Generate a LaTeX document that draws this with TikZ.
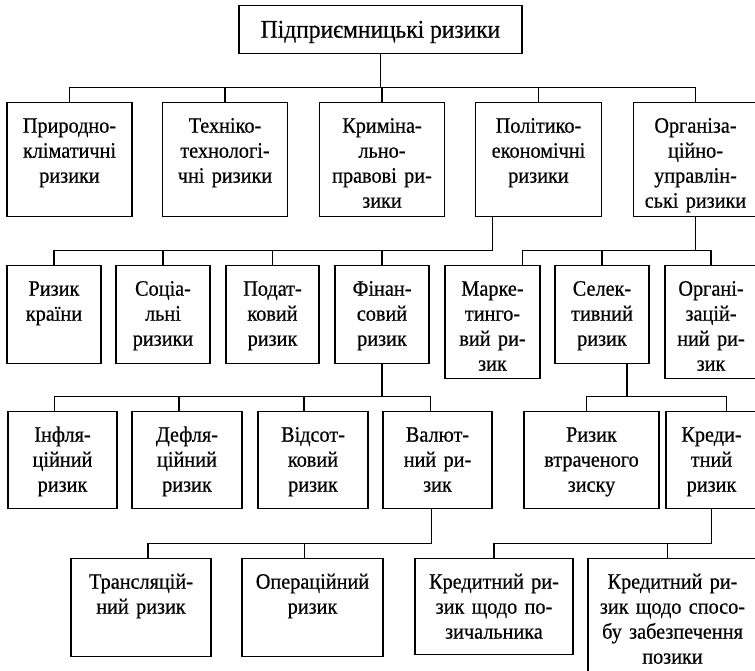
\documentclass[tikz,border=0pt]{standalone}
\usepackage{fontspec}
\setmainfont{Liberation Serif}[FakeStretch=0.92,FakeBold=0.5]
\usetikzlibrary{positioning}

\tikzset{
  rsk/.style 2 args={draw,line width=1.4pt,anchor=north,align=center,inner sep=0pt,
    text width=#1pt,text height=30pt,text depth=#2pt,font=\fontsize{22}{25}\selectfont},
  link/.style={line width=1.4pt}
}

\begin{document}
\begin{tikzpicture}[x=1pt,y=-1pt]
\useasboundingbox (0,0) rectangle (755,670);
\node (top)[draw,line width=1.4pt,anchor=north,inner sep=0pt,minimum width=283pt,text height=32pt,text depth=16pt,font=\fontsize{25.5}{28}\selectfont] at (380.5,5) {Підприємницькі ризики};
\foreach \name/\x/\w/\txt in {a1/69.5/125/{Природно-\\кліматичні\\ризики},a2/225/125/{Техніко-\\технологі-\\чні ризики},a3/382/125/{Криміна-\\льно-\\правові ри-\\зики},a4/538.5/126/{Політико-\\економічні\\ризики},a5/695.5/124/{Організа-\\ційно-\\управлін-\\ські ризики}}
\node[rsk={\w}{84}] (\name) at (\x,102) {\txt};
\foreach \name/\x/\w/\d/\txt in {b1/54/94/68/{Ризик\\країни},b2/163/94/68/{Соціа-\\льні\\ризики},b3/272.5/93/68/{Подат-\\ковий\\ризик},b4/382/94/68/{Фінан-\\совий\\ризик},b5/492.5/95/83/{Марке-\\тинго-\\вий ри-\\зик},b6/602/94/68/{Селек-\\тивний\\ризик},b7/711/92/83/{Органі-\\зацій-\\ний ри-\\зик}}
\node[rsk={\w}{\d}] (\name) at (\x,265) {\txt};
\foreach \name/\x/\w/\txt in {c1/62.5/109/{Інфля-\\ційний\\ризик},c2/187/110/{Дефля-\\ційний\\ризик},c3/313/110/{Відсот-\\ковий\\ризик},c4/437.5/109/{Валют-\\ний ри-\\зик},c5/591.5/135/{Ризик\\втраченого\\зиску},c6/711.5/91/{Креди-\\тний\\ризик}}
\node[rsk={\w}{67}] (\name) at (\x,411) {\txt};
\foreach \name/\x/\w/\d/\txt in {d1/141/140/68/{Трансляцій-\\ний ризик},d2/312.5/141/68/{Операційний\\ризик},d3/494/158/66/{Кредитний ри-\\зик щодо по-\\зичальника},d4/672.5/169/84/{Кредитний ри-\\зик щодо спосо-\\бу забезпечення\\позики}}
\node[rsk={\w}{\d}] (\name) at (\x,558) {\txt};
\foreach \p/\px/\h/\n/\nx in {top/0/33/a1/0,top/0/33/a2/0,top/0/33/a3/0,top/0/33/a4/0,top/0/33/a5/0,
  a4/-46/33/b1/0,a4/-46/33/b2/0,a4/-46/33/b3/0,a4/-46/33/b4/0,a5/0/33/b5/30,a5/0/33/b6/0,a5/0/33/b7/0,
  b4/0/32/c1/-8,b4/0/32/c2/-8,b4/0/32/c3/-9,b4/0/32/c4/-7,b6/25/32/c5/-5,b6/25/32/c6/15,
  c4/-6/34/d1/7,c4/-6/34/d2/-8,c6/0/34/d3/0,c6/0/34/d4/-5}
\draw[link] ([xshift=\px pt]\p.south) -- ++(0,\h) -| ([xshift=\nx pt]\n.north);
\end{tikzpicture}
\end{document}
